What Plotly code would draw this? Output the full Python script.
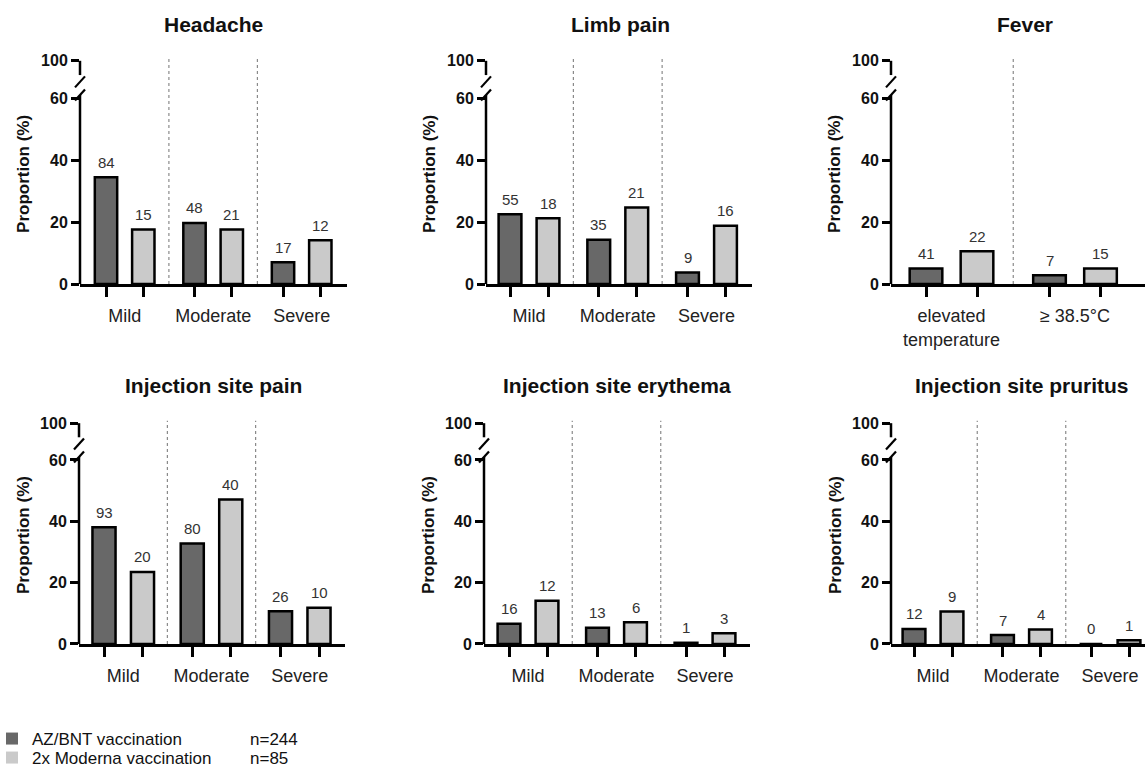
import plotly.graph_objects as go

FONT = "Liberation Sans"
W, H = 1145, 770

# ---------------- data ----------------
panel_titles = ["Headache", "Limb pain", "Fever",
                "Injection site pain", "Injection site erythema", "Injection site pruritus"]
severity_labels = ["Mild", "Moderate", "Severe"]
fever_labels = ["elevated<br>temperature", "≥ 38.5°C"]

# bar heights: proportion (%)
headache_az = [34.4, 19.7, 7.0]
headache_mod = [17.6, 17.6, 14.1]
limb_az = [22.5, 14.3, 3.7]
limb_mod = [21.2, 24.7, 18.8]
fever_az = [5.0, 2.8]
fever_mod = [10.6, 5.0]
pain_az = [38.1, 32.8, 10.7]
pain_mod = [23.5, 47.1, 11.8]
ery_az = [6.6, 5.3, 0.4]
ery_mod = [14.1, 7.1, 3.5]
pru_az = [4.9, 2.9, 0.0]
pru_mod = [10.6, 4.7, 1.2]

# counts printed above the bars
headache_az_n = [84, 48, 17]
headache_mod_n = [15, 21, 12]
limb_az_n = [55, 35, 9]
limb_mod_n = [18, 21, 16]
fever_az_n = [41, 7]
fever_mod_n = [22, 15]
pain_az_n = [93, 80, 26]
pain_mod_n = [20, 40, 10]
ery_az_n = [16, 13, 1]
ery_mod_n = [12, 6, 3]
pru_az_n = [12, 7, 0]
pru_mod_n = [9, 4, 1]

y_tick_labels = ["0", "20", "40", "60", "100"]
series_names = ["AZ/BNT vaccination", "2x Moderna vaccination"]
series_n = ["n=244", "n=85"]

# ---------------- styling / layout ----------------
C_AZ = "#686868"
C_MOD = "#cacaca"
BREAK_POS = 72.0      # plotted position of the "100" tick (broken axis)
YMAX = 73.5
y_tickvals = [0, 20, 40, 60, BREAK_POS]

panels = [
    dict(cats=severity_labels, az=headache_az, mod=headache_mod, azn=headache_az_n, modn=headache_mod_n,
         left=80, first=106, pair=37.3, group=88.5, right=347, row=0, tc=213, bw=0.6),
    dict(cats=severity_labels, az=limb_az, mod=limb_mod, azn=limb_az_n, modn=limb_mod_n,
         left=486, first=510, pair=38.0, group=88.75, right=752, row=0, tc=620, bw=0.6),
    dict(cats=fever_labels, az=fever_az, mod=fever_mod, azn=fever_az_n, modn=fever_mod_n,
         left=891, first=926, pair=51.0, group=123.5, right=1145, row=0, tc=1025, bw=0.64),
    dict(cats=severity_labels, az=pain_az, mod=pain_mod, azn=pain_az_n, modn=pain_mod_n,
         left=79, first=104, pair=38.5, group=88.25, right=345, row=1, tc=213, bw=0.6),
    dict(cats=severity_labels, az=ery_az, mod=ery_mod, azn=ery_az_n, modn=ery_mod_n,
         left=484, first=509, pair=38.0, group=88.5, right=750, row=1, tc=617, bw=0.6),
    dict(cats=severity_labels, az=pru_az, mod=pru_mod, azn=pru_az_n, modn=pru_mod_n,
         left=891, first=914, pair=38.0, group=88.5, right=1145, row=1, tc=1022, bw=0.6),
]
rows = [dict(zero=284, ppu=3.1, title_y=25), dict(zero=644, ppu=3.067, title_y=385)]

fig = go.Figure()
annotations = []
shapes = []
layout = {}

for i, p in enumerate(panels):
    k = "" if i == 0 else str(i + 1)
    xa, ya = "x" + k, "y" + k
    r = rows[p["row"]]
    G = p["group"] / p["pair"]
    ng = len(p["cats"])
    centers = [g * G for g in range(ng)]
    x_az = [c - 0.5 for c in centers]
    x_mod = [c + 0.5 for c in centers]
    xr = [-0.5 - (p["first"] - p["left"]) / p["pair"], -0.5 + (p["right"] - p["first"]) / p["pair"]]
    top_px = r["zero"] - YMAX * r["ppu"]

    for xs, ys, col, ns in ((x_az, p["az"], C_AZ, p["azn"]), (x_mod, p["mod"], C_MOD, p["modn"])):
        fig.add_trace(go.Bar(x=xs, y=ys, width=p["bw"], marker=dict(color=col, line=dict(color="black", width=2.5)),
                             xaxis=xa, yaxis=ya, showlegend=False, hoverinfo="skip"))
        for xv, yv, nv in zip(xs, ys, ns):
            annotations.append(dict(x=xv, y=yv, xref=xa, yref=ya, text=str(nv), showarrow=False,
                                    yanchor="middle", yshift=15,
                                    font=dict(family=FONT, size=15, color="#333333")))

    layout["xaxis" + k] = dict(
        domain=[p["left"] / W, p["right"] / W], anchor=ya, range=xr,
        tickmode="array", tickvals=centers, ticktext=p["cats"],
        ticks="outside", ticklen=14, tickcolor="rgba(0,0,0,0)",
        tickfont=dict(family=FONT, size=18, color="#222222"),
        showline=True, linecolor="black", linewidth=2.5, showgrid=False, zeroline=False,
        minor=dict(tickmode="array", tickvals=x_az + x_mod, ticks="outside", ticklen=10,
                   tickwidth=2.5, tickcolor="black", showgrid=False),
    )
    layout["yaxis" + k] = dict(
        domain=[1 - r["zero"] / H, 1 - top_px / H], anchor=xa, range=[0, YMAX],
        tickmode="array", tickvals=y_tickvals, ticktext=y_tick_labels,
        ticks="outside", ticklen=8, tickwidth=2.5, tickcolor="black",
        tickfont=dict(family=FONT, size=16, color="#111111", weight="bold"),
        showline=False, showgrid=False, zeroline=False,
    )

    xd, yd = xa + " domain", ya + " domain"
    line = dict(color="black", width=2.5)
    # broken y axis: lower segment, upper segment and the two slashes
    shapes.append(dict(type="line", xref=xd, yref=yd, x0=0, x1=0, y0=0, y1=61 / YMAX, line=line))
    shapes.append(dict(type="line", xref=xd, yref=yd, x0=0, x1=0, y0=67.4 / YMAX, y1=BREAK_POS / YMAX, line=line))
    for yc in (61.0, 65.2):
        shapes.append(dict(type="line", xref=xd, yref=yd, xsizemode="pixel", ysizemode="pixel",
                           xanchor=0, yanchor=yc / YMAX, x0=-5, x1=5, y0=-5.5, y1=5.5,
                           line=dict(color="black", width=2.2)))
    # dotted separators between groups
    for g in range(ng - 1):
        xm = (centers[g] + centers[g + 1]) / 2
        shapes.append(dict(type="line", xref=xa, yref=ya, x0=xm, x1=xm, y0=0, y1=72.8,
                           line=dict(color="#8a8a8a", width=1.2, dash="dot"), layer="below"))

    # panel title
    annotations.append(dict(x=p["tc"] / W, y=1 - r["title_y"] / H, xref="paper", yref="paper",
                            text=panel_titles[i], showarrow=False, xanchor="center", yanchor="middle",
                            font=dict(family=FONT, size=21, color="#111111", weight="bold")))
    # y axis title
    annotations.append(dict(x=(p["left"] - 56) / W, y=1 - (r["zero"] - 35.5 * r["ppu"]) / H,
                            xref="paper", yref="paper", text="Proportion (%)", textangle=-90,
                            showarrow=False, xanchor="center", yanchor="middle",
                            font=dict(family=FONT, size=17, color="#111111", weight="bold")))

# legend entries (plain squares, no outline), one legend per row
legend_rows_px = [739, 758]
for j, (name, col) in enumerate(zip(series_names, (C_AZ, C_MOD))):
    fig.add_trace(go.Bar(x=[None], y=[None], name=name, marker=dict(color=col, line=dict(width=0)),
                         xaxis="x", yaxis="y", showlegend=True, legend="legend" if j == 0 else "legend2"))
    annotations.append(dict(x=248 / W, y=1 - legend_rows_px[j] / H, xref="paper", yref="paper",
                            text=series_n[j], showarrow=False, xanchor="left", yanchor="middle",
                            font=dict(family=FONT, size=17, color="#111111")))

leg_common = dict(x=-0.007, xanchor="left", yanchor="middle", bgcolor="rgba(0,0,0,0)",
                  font=dict(family=FONT, size=17, color="#111111"), itemwidth=30)

fig.update_layout(
    width=W, height=H, margin=dict(l=0, r=0, t=0, b=0, autoexpand=False),
    paper_bgcolor="white", plot_bgcolor="white", barmode="overlay",
    showlegend=True,
    legend=dict(y=1 - legend_rows_px[0] / H, **leg_common),
    legend2=dict(y=1 - legend_rows_px[1] / H, **leg_common),
    annotations=annotations, shapes=shapes,
    **layout,
)

fig.write_html("out.html", config={"displayModeBar": False},
               post_script="document.body.style.margin='0px';document.body.style.overflow='hidden';")
